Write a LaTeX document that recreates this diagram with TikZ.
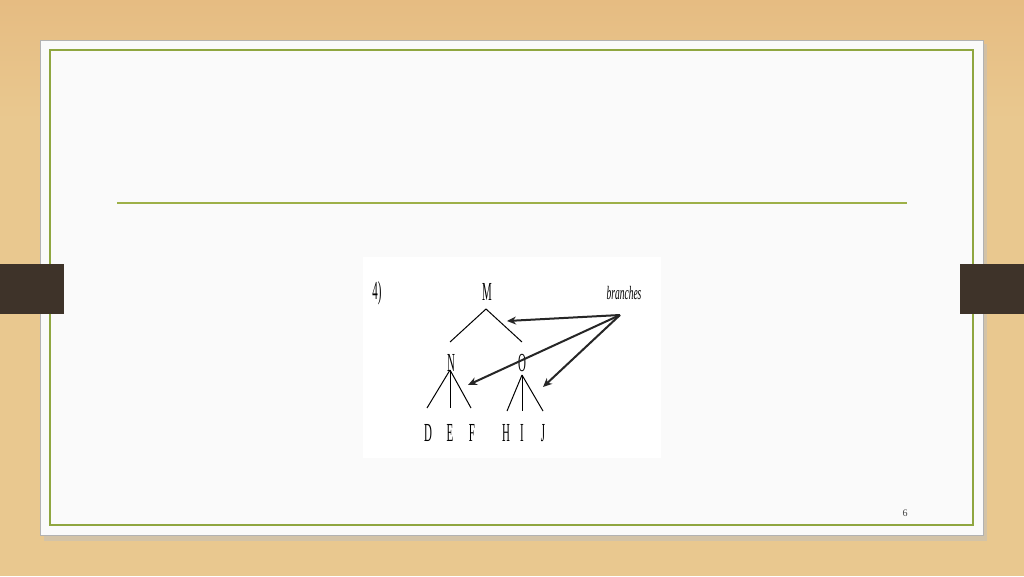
\documentclass[tikz,border=0pt]{standalone}
\usepackage{fontspec}
\setmainfont{Liberation Serif}
\newfontfamily\narrowserif[FakeStretch=0.42]{Liberation Serif}
\newfontfamily\narrowital[FakeStretch=0.5]{Liberation Serif}
\usetikzlibrary{arrows.meta}
\definecolor{wood}{HTML}{E9C88F}
\definecolor{woodtop}{HTML}{E6BC82}
\definecolor{tab}{HTML}{3E3329}
\definecolor{frame}{HTML}{8FA640}
\definecolor{rulecol}{HTML}{9DB048}
\definecolor{card}{HTML}{FAFAFA}
\tikzset{
  treetxt/.style={inner sep=0pt, font=\narrowserif\fontsize{26}{26}\selectfont},
  branchtxt/.style={inner sep=0pt, font=\narrowital\itshape\fontsize{19}{19}\selectfont},
  treeline/.style={line width=1pt, black},
  pointer/.style={line width=2pt, black!85, -{Stealth[length=9pt,width=8pt]}},
}
\begin{document}
\begin{tikzpicture}[x=1pt,y=-1pt]
\useasboundingbox (0,0) rectangle (1024,576);
% background
\shade[top color=woodtop, bottom color=wood] (0,0) rectangle (1024,120);
\fill[wood] (0,119.5) rectangle (1024,576);
% card shadow
\fill[black!25, opacity=0.5] (44,44) rectangle (987,541);
% card
\fill[card] (40,40) rectangle (983,535);
\draw[black!30, line width=0.6pt] (40,40) rectangle (983,535);
% green frame
\draw[frame, line width=1.5pt] (50,50) rectangle (973,525);
% tabs
\fill[tab] (0,264) rectangle (64,314);
\fill[tab] (960,264) rectangle (1024,314);
% rule
\draw[rulecol, line width=1.4pt] (117,203) -- (907,203);
% figure
\fill[white] (363,257) rectangle (661,458);
\node[treetxt] (num) at (377,293) {4)};
\node[treetxt] (M) at (487,292) {M};
\node[branchtxt] (br) at (624,293) {branches};
\coordinate (Mb) at (486,309);
\coordinate (Ml) at (450,342);
\coordinate (Mr) at (522,342);
\node[treetxt] (N) at (451,363) {N};
\node[treetxt] (O) at (522,363) {O};
\coordinate (Nb) at (450,370);
\coordinate (Ob) at (522,375);
\node[treetxt] (D) at (428,433) {D};
\node[treetxt] (E) at (450,433) {E};
\node[treetxt] (F) at (472,433) {F};
\node[treetxt] (H) at (506,433) {H};
\node[treetxt] (I) at (522,433) {I};
\node[treetxt] (J) at (543,433) {J};
\coordinate (Dt) at (427,408);
\coordinate (Et) at (450,408);
\coordinate (Ft) at (471,408);
\coordinate (Ht) at (507,411);
\coordinate (It) at (522,411);
\coordinate (Jt) at (543,411);
\draw[treeline] (Ml) -- (Mb) -- (Mr);
\draw[treeline] (Nb) -- (Dt);
\draw[treeline] (Nb) -- (Et);
\draw[treeline] (Nb) -- (Ft);
\draw[treeline] (Ob) -- (Ht);
\draw[treeline] (Ob) -- (It);
\draw[treeline] (Ob) -- (Jt);
\coordinate (src) at (620,315);
\coordinate (t1) at (507,321);
\coordinate (t2) at (468,385);
\coordinate (t3) at (543,387);
\draw[pointer] (src) -- (t1);
\draw[pointer] (src) -- (t2);
\draw[pointer] (src) -- (t3);
% page number
\node[inner sep=0pt, font=\fontsize{10}{10}\selectfont, text=black!75] (pg) at (905,513) {6};
\end{tikzpicture}
\end{document}
